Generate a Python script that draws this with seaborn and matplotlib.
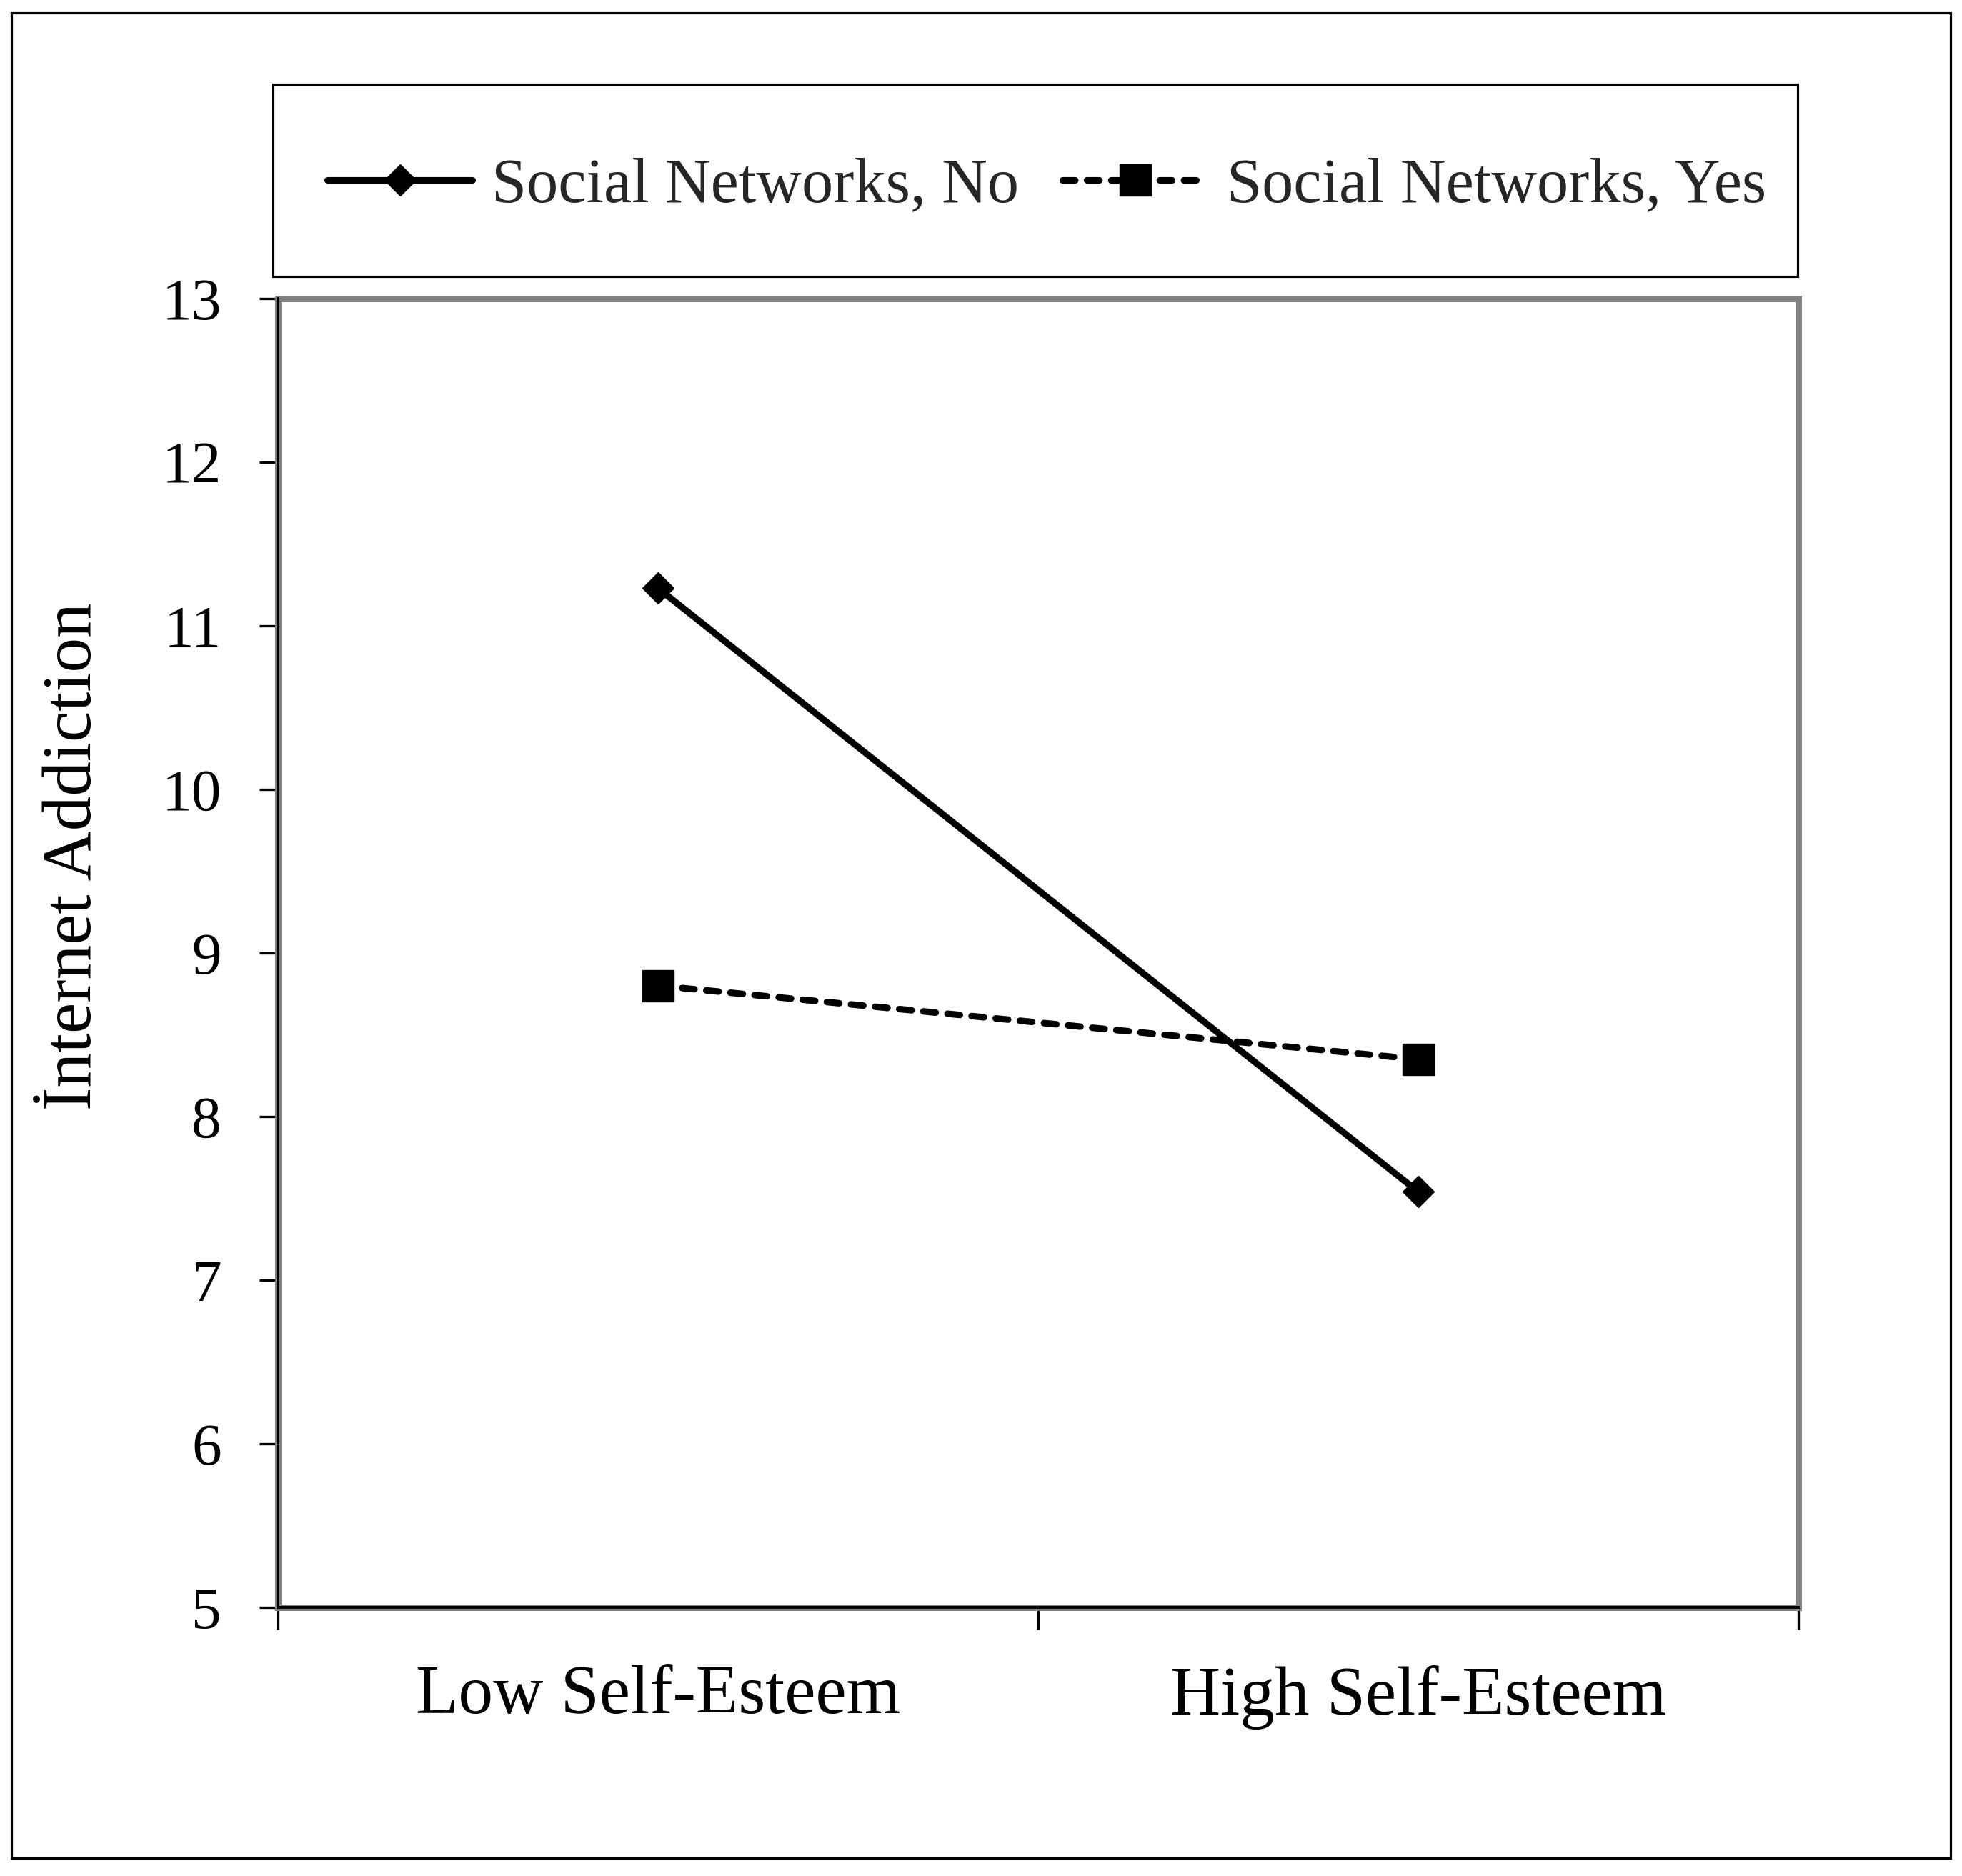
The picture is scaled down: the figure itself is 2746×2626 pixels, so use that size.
import numpy as np
import pandas as pd
import matplotlib
matplotlib.use("Agg")
import matplotlib.pyplot as plt
from matplotlib.patches import Rectangle
from matplotlib.ticker import FixedLocator
import seaborn as sns

# data
esteem = ["Low Self-Esteem", "High Self-Esteem"]
groups = ["No", "Yes"]
addiction_no = [11.23, 7.54]
addiction_yes = [8.80, 8.35]
legend_labels = ["Social Networks, No", "Social Networks, Yes"]
y_ticks = [5, 6, 7, 8, 9, 10, 11, 12, 13]

df = pd.DataFrame({
    "esteem": esteem * 2,
    "group": [groups[0]] * 2 + [groups[1]] * 2,
    "addiction": addiction_no + addiction_yes,
})

sns.set_style("white")
plt.rcParams["font.family"] = ["Liberation Serif", "DejaVu Serif"]

W, H = 2746, 2626
fig = plt.figure(figsize=(W / 100, H / 100), dpi=100)
fig.patch.set_facecolor("white")

# outer frame
fig.patches.append(Rectangle((16 / W, 1 - 2601 / H), 2714 / W, 2583 / H,
                             transform=fig.transFigure, fill=False,
                             edgecolor="black", linewidth=2.3))
# legend frame
fig.patches.append(Rectangle((382 / W, 1 - 387 / H), 2134 / W, 269 / H,
                             transform=fig.transFigure, fill=False,
                             edgecolor="black", linewidth=2.3))

ax = fig.add_axes([389 / W, 1 - 2250 / H, 2128 / W, 1832 / H])

sns.lineplot(data=df, x="esteem", y="addiction", hue="group", style="group",
             hue_order=groups, style_order=groups,
             palette={"No": "black", "Yes": "black"},
             markers={"No": "D", "Yes": "s"},
             dashes={"No": "", "Yes": (1.9, 1.8)},
             linewidth=6.6, legend=False, ax=ax)

for ln in ax.lines:
    ln.set_dash_capstyle("round")
    ln.set_solid_capstyle("round")
    ln.set_markeredgecolor("black")
    ln.set_markerfacecolor("black")
    ln.set_markeredgewidth(1)
    if ln.get_marker() == "D":
        ln.set_markersize(22.5)
    else:
        ln.set_markersize(32)

ax.set_xlim(-0.5, 1.5)
ax.set_ylim(5, 13)
ax.set_yticks(y_ticks)
ax.set_xticks([0, 1])
ax.set_xticklabels(esteem)
ax.xaxis.set_minor_locator(FixedLocator([-0.5, 0.5, 1.5]))

ax.tick_params(axis="x", which="major", length=0, pad=58, labelsize=70,
               colors="black")
ax.tick_params(axis="x", which="minor", length=22, width=2.4, direction="out",
               color="black", bottom=True)
ax.tick_params(axis="y", which="major", length=19, width=2.4, direction="out",
               pad=38, labelsize=60, colors="black", left=True)

# plot-area border in grey, axis lines in black
ax.add_patch(Rectangle((0, 0), 1, 1, transform=ax.transAxes, fill=False,
                       edgecolor="#808080", linewidth=6.5, clip_on=False,
                       zorder=1, joinstyle="miter"))
for side in ["top", "right"]:
    ax.spines[side].set_visible(False)
for side in ["left", "bottom"]:
    ax.spines[side].set_color("black")
    ax.spines[side].set_linewidth(2.8)
    ax.spines[side].set_zorder(3)

ax.set_xlabel("")
ax.set_ylabel("İnternet Addiction", fontsize=70, color="black")
ax.yaxis.set_label_coords(-0.1133, 0.5737)

ax.legend(handles=ax.lines[:2], labels=legend_labels, loc="center",
          bbox_to_anchor=(1465 / W, 1 - 261 / H),
          bbox_transform=fig.transFigure, ncol=2, frameon=False,
          fontsize=63.5, handlelength=2.3, handletextpad=0.3,
          columnspacing=0.7, numpoints=1)

fig.savefig("out.png", dpi=100, facecolor="white")
